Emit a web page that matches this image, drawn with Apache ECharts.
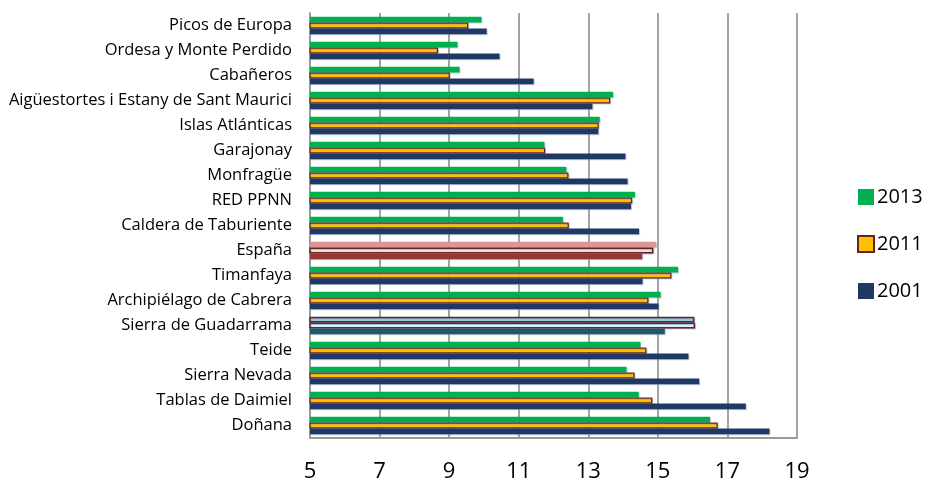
<!DOCTYPE html>
<html><head><meta charset="utf-8">
<script src="https://cdn.jsdelivr.net/npm/echarts@6/dist/echarts.min.js"></script>
<style>html,body{margin:0;padding:0;background:#fff}#c{width:930px;height:483px}</style>
</head><body><div id="c"></div>
<script>
const categories = ["Picos de Europa","Ordesa y Monte Perdido","Cabañeros","Aigüestortes i Estany de Sant Maurici","Islas Atlánticas","Garajonay","Monfragüe","RED PPNN","Caldera de Taburiente","España","Timanfaya","Archipiélago de Cabrera","Sierra de Guadarrama","Teide","Sierra Nevada","Tablas de Daimiel","Doñana"];
const v2013 = [9.93,9.24,9.30,13.71,13.33,11.74,12.37,14.34,12.27,14.95,15.58,15.08,16.05,14.50,14.10,14.45,16.50];
const v2011 = [9.55,8.68,9.02,13.63,13.30,11.76,12.43,14.26,12.44,14.87,15.39,14.73,16.07,14.67,14.33,14.84,16.72];
const v2001 = [10.08,10.45,11.43,13.12,13.29,14.07,14.13,14.23,14.46,14.55,14.56,15.02,15.20,15.88,16.19,17.53,18.21];
const xTicks = [5,7,9,11,13,15,17,19];

const FONT = "'Open Sans', 'Noto Sans', sans-serif";
const BORDER = '#632523';
const special = {
  "España": {
    "2013": {color:'#d99694'},
    "2011": {color:'#f2dcdb', borderColor:BORDER, borderWidth:1.5},
    "2001": {color:'#953735'}
  },
  "Sierra de Guadarrama": {
    "2013": {color:'#93cddd', borderColor:BORDER, borderWidth:1.5},
    "2011": {color:'#dbeef4', borderColor:BORDER, borderWidth:1.5},
    "2001": {color:'#215968'}
  }
};
function build(vals, name){
  return vals.map((v,i)=>{
    const s = special[categories[i]];
    return s ? {value:v, itemStyle:s[name]} : v;
  });
}
const shadow = {shadowColor:'rgba(120,150,190,0.45)', shadowOffsetX:1, shadowOffsetY:1, shadowBlur:0};
const series = [
  {name:'2013', type:'bar', data:build(v2013,'2013'), barWidth:5.8, barGap:'0%',
   itemStyle:Object.assign({color:'#00b050'},shadow)},
  {name:'2011', type:'bar', data:build(v2011,'2011'), barWidth:5.8, barGap:'0%',
   itemStyle:Object.assign({color:'#ffc000', borderColor:BORDER, borderWidth:1.2},shadow)},
  {name:'2001', type:'bar', data:build(v2001,'2001'), barWidth:5.8, barGap:'0%',
   itemStyle:Object.assign({color:'#1f3864'},shadow)}
];
const chart = echarts.init(document.getElementById('c'), null, {renderer:'canvas'});
chart.setOption({
  animation:false,
  textStyle:{fontFamily:FONT},
  grid:{left:310, right:133, top:13, bottom:45, containLabel:false},
  legend:{
    orient:'vertical', left:852, top:182, itemWidth:16, itemHeight:16, itemGap:27,
    icon:'rect',
    textStyle:{fontSize:20, color:'#000', fontFamily:FONT, padding:[0,0,0,-2]},
    data:['2013','2011','2001']
  },
  xAxis:{
    type:'value', min:5, max:19, interval:2,
    axisLine:{show:true, lineStyle:{color:'#9a9a9a', width:1.8}}, axisTick:{show:false},
    splitLine:{show:true, lineStyle:{color:'#9a9a9a', width:1.8}},
    axisLabel:{fontSize:22, color:'#000', margin:23, fontFamily:FONT,
      formatter:(v)=> xTicks.includes(v) ? String(v) : ''}
  },
  yAxis:{
    type:'category', data:categories, inverse:true,
    axisLine:{show:true, lineStyle:{color:'#9a9a9a', width:1.8}},
    axisTick:{show:false},
    axisLabel:{fontSize:16.5, color:'#000', margin:18, fontFamily:FONT, interval:0}
  },
  series:series
});
</script></body></html>
